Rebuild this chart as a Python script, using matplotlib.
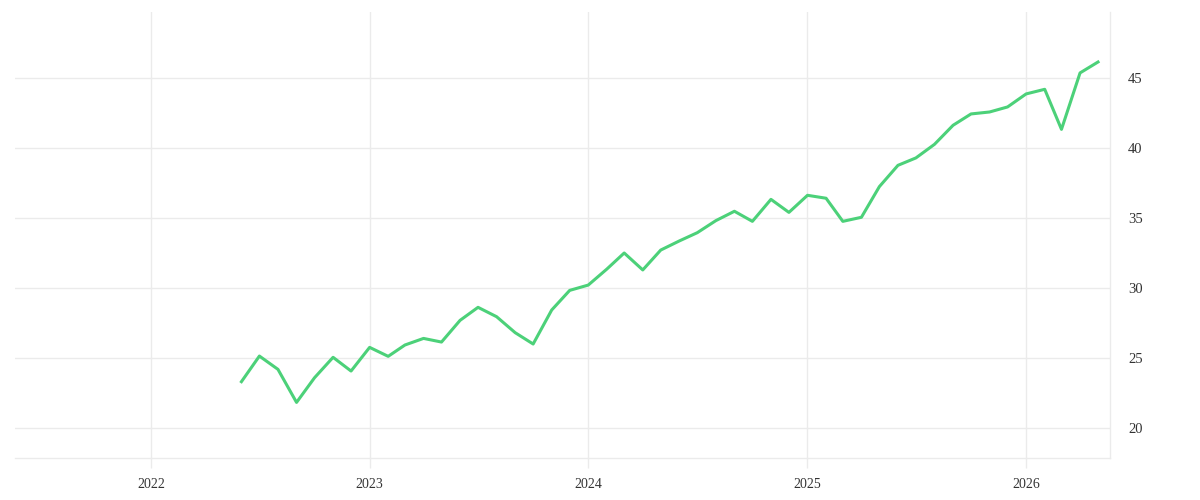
import matplotlib.pyplot as plt
import pandas as pd

# monthly values, June 2022 - May 2026
months = pd.date_range('2022-06-01', periods=48, freq='MS')
values = [23.31, 25.14, 24.19, 21.83, 23.59, 25.05, 24.07,
          25.76, 25.12, 25.93, 26.40, 26.14, 27.69, 28.62, 27.95, 26.81, 26.00, 28.43, 29.83,
          30.21, 31.35, 32.50, 31.29, 32.71, 33.36, 33.95, 34.81, 35.48, 34.76, 36.33, 35.40,
          36.62, 36.41, 34.76, 35.05, 37.24, 38.76, 39.29, 40.26, 41.62, 42.43, 42.57, 42.93,
          43.86, 44.19, 41.33, 45.36, 46.14]
year_ticks = pd.to_datetime(['2022-01-01', '2023-01-01', '2024-01-01', '2025-01-01', '2026-01-01'])
year_labels = ['2022', '2023', '2024', '2025', '2026']
y_ticks = [20, 25, 30, 35, 40, 45]

grid_col = '#ebebeb'
text_col = '#333333'

plt.rcParams['font.family'] = ['Liberation Serif', 'DejaVu Serif']

fig = plt.figure(figsize=(12, 5), dpi=100)
ax = fig.add_axes([0.0125, 0.084, 0.9125, 0.892])

# the single green series
ax.plot(months, values, color='#4cd179', linewidth=2.2)

ax.set_xlim(pd.Timestamp('2021-05-19'), pd.Timestamp('2026-05-21'))
ax.set_ylim(17.86, 49.71)

ax.set_xticks(year_ticks)
ax.set_xticklabels(year_labels)
ax.set_yticks(y_ticks)
ax.yaxis.tick_right()

# light grid, frame only at bottom and right
ax.grid(True, color=grid_col, linewidth=1)
ax.set_axisbelow(True)
for side in ['top', 'left']:
    ax.spines[side].set_visible(False)
for side in ['bottom', 'right']:
    ax.spines[side].set_color(grid_col)
    ax.spines[side].set_linewidth(1)

ax.tick_params(axis='x', length=7.2, width=1, color=grid_col, pad=7.5,
               labelsize=10, labelcolor=text_col)
ax.tick_params(axis='y', length=0, pad=13, labelsize=10.5, labelcolor=text_col)

plt.savefig('out.png', dpi=100)
